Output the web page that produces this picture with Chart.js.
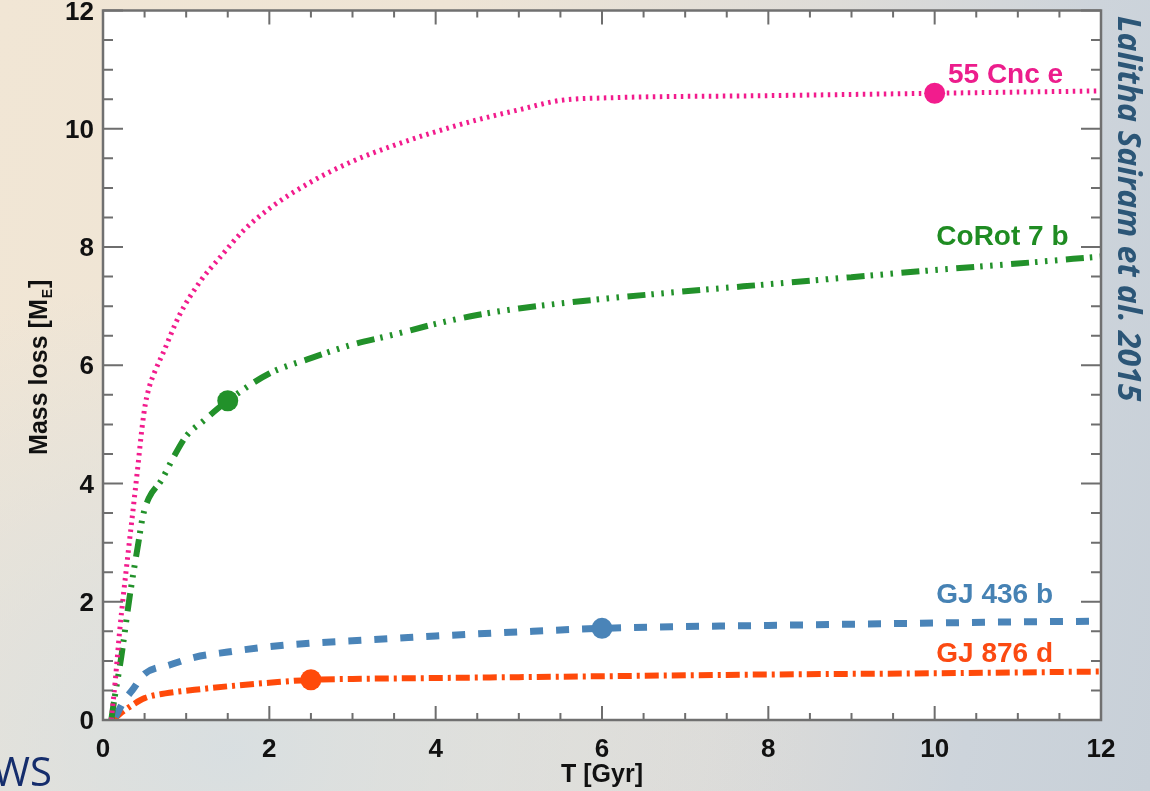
<!DOCTYPE html>
<html>
<head>
<meta charset="utf-8">
<title>Mass loss vs time</title>
<script src="https://cdn.jsdelivr.net/npm/chart.js@4"></script>
<style>
  html, body { margin: 0; padding: 0; }
  body {
    width: 1150px; height: 791px; overflow: hidden; position: relative;
    background:
      radial-gradient(ellipse at 20% 95%, rgba(214,222,226,0.9) 0%, rgba(214,222,226,0) 45%),
      linear-gradient(100deg, #f1e6d5 0%, #eee4d5 35%, #dedcd8 65%, #cdd4db 85%, #c8d0d8 100%);
  }
  #wrap { position: absolute; left: 0; top: 0; width: 1150px; height: 791px; }
  #credit {
    position: absolute; left: 1110px; top: 16px;
    writing-mode: vertical-rl;
    font-family: "Open Sans", sans-serif; font-weight: 700; font-style: italic;
    font-size: 32px; line-height: 40px; color: #2c5677; white-space: nowrap;
  }
  #corner {
    position: absolute; left: -7px; top: 747px;
    font-family: "Open Sans", sans-serif; font-size: 40px; line-height: 48px;
    color: #152d6c; white-space: nowrap;
  }
</style>
</head>
<body>
<div id="wrap"><canvas id="chart" width="1150" height="791"></canvas></div>
<div id="credit">Lalitha Sairam et al. 2015</div>
<div id="corner">WS</div>
<script>
// Cumulative mass loss (Earth masses) against time (Gyr) for four close-in planets
const cncT    = [0.1, 0.15, 0.2, 0.3, 0.365, 0.42, 0.47, 0.51, 0.56, 0.64, 0.72, 0.92, 1.17, 1.41, 1.69, 2, 2.5, 3, 3.5, 4, 4.5, 5, 5.5, 6, 8, 10, 12];
const cncLoss = [0, 0.7, 1.5, 2.8, 3.6, 4.3, 4.95, 5.35, 5.65, 5.95, 6.2, 6.85, 7.42, 7.83, 8.28, 8.65, 9.1, 9.45, 9.72, 9.95, 10.15, 10.32, 10.48, 10.52, 10.56, 10.6, 10.64];

const corotT    = [0.1, 0.12, 0.22, 0.32, 0.42, 0.48, 0.55, 0.7, 0.85, 1.0, 1.2, 1.5, 2, 2.5, 3, 3.5, 4, 4.5, 5, 6, 7, 8, 9, 10, 11, 12];
const corotLoss = [0, 0.2, 1.07, 2.08, 2.95, 3.45, 3.75, 4.05, 4.45, 4.8, 5.05, 5.4, 5.86, 6.12, 6.35, 6.52, 6.7, 6.85, 6.96, 7.12, 7.25, 7.37, 7.49, 7.61, 7.72, 7.84];

const gj436T    = [0.15, 0.25, 0.35, 0.5, 0.8, 1.1, 1.5, 2, 2.5, 3, 3.5, 4, 5, 6, 7, 8, 9, 10, 11, 12];
const gj436Loss = [0.05, 0.32, 0.5, 0.78, 0.93, 1.06, 1.15, 1.24, 1.3, 1.34, 1.38, 1.42, 1.49, 1.55, 1.58, 1.6, 1.62, 1.64, 1.66, 1.67];

const gj876T    = [0.12, 0.2, 0.35, 0.5, 0.75, 1.1, 1.5, 2, 2.5, 3, 4, 5, 6, 8, 10, 12];
const gj876Loss = [0, 0.1, 0.25, 0.37, 0.45, 0.51, 0.57, 0.63, 0.68, 0.695, 0.71, 0.725, 0.74, 0.77, 0.79, 0.82];

// Highlighted epochs, one per planet
const planetNames = ['55 Cnc e', 'CoRot 7 b', 'GJ 436 b', 'GJ 876 d'];
const markerT     = [10, 1.5, 6, 2.5];
const markerLoss  = [10.6, 5.4, 1.55, 0.68];

// Axis ticks
const xTickValues = [0, 2, 4, 6, 8, 10, 12];
const yTickValues = [0, 2, 4, 6, 8, 10, 12];

const colors = ['#f21c8d', '#22912a', '#4a84b8', '#ff4a0a'];
const textColors = ['#ec1d8c', '#1f8c22', '#4682b4', '#fb4a12'];
const dashes = [
  [2.5, 4.5],
  [18, 6, 2.5, 7.5, 2.5, 7.5, 2.5, 8.5],
  [13, 13],
  [14, 5, 3, 5]
];
const widths = [5, 6, 7, 6];

const toPoints = (xs, ys) => xs.map((x, i) => ({ x: x, y: ys[i] }));
const curves = [
  toPoints(cncT, cncLoss),
  toPoints(corotT, corotLoss),
  toPoints(gj436T, gj436Loss),
  toPoints(gj876T, gj876Loss)
];

const datasets = [];
curves.forEach((pts, i) => {
  datasets.push({
    label: planetNames[i],
    data: pts,
    borderColor: colors[i],
    borderWidth: widths[i],
    borderDash: dashes[i],
    borderCapStyle: 'butt',
    pointRadius: 0,
    fill: false,
    cubicInterpolationMode: 'monotone',
    order: 2
  });
});
planetNames.forEach((name, i) => {
  datasets.push({
    label: name + ' epoch',
    data: [{ x: markerT[i], y: markerLoss[i] }],
    showLine: false,
    pointRadius: 10.5,
    pointBackgroundColor: colors[i],
    pointBorderColor: colors[i],
    pointBorderWidth: 0,
    order: 1
  });
});

const BOLD = '"Liberation Sans", Arial, Helvetica, sans-serif';

// White plotting panel, framed box and inward ticks on all four sides
const framePlugin = {
  id: 'frame',
  beforeDraw(chart) {
    const a = chart.chartArea, ctx = chart.ctx;
    ctx.save();
    ctx.fillStyle = '#ffffff';
    ctx.fillRect(a.left, a.top, a.right - a.left, a.bottom - a.top);
    ctx.restore();
  },
  afterDatasetsDraw(chart) {
    const a = chart.chartArea, ctx = chart.ctx;
    const xs = chart.scales.x, ys = chart.scales.y;
    ctx.save();
    ctx.strokeStyle = '#6e6e6e';
    ctx.lineWidth = 2;
    ctx.beginPath();
    for (let v = 0; v <= 12.001; v += 0.5) {
      const major = Math.abs(v % 2) < 1e-6;
      const px = xs.getPixelForValue(v);
      const lx = major ? 14 : 7;
      ctx.moveTo(px, a.bottom); ctx.lineTo(px, a.bottom - lx);
      ctx.moveTo(px, a.top);    ctx.lineTo(px, a.top + lx);
      const py = ys.getPixelForValue(v);
      const ly = major ? 20 : 10;
      ctx.moveTo(a.left, py);  ctx.lineTo(a.left + ly, py);
      ctx.moveTo(a.right, py); ctx.lineTo(a.right - ly, py);
    }
    ctx.stroke();
    ctx.lineWidth = 2.5;
    ctx.strokeStyle = '#707070';
    ctx.strokeRect(a.left, a.top, a.right - a.left, a.bottom - a.top);
    ctx.restore();
  }
};

// Planet names written next to their curves
const namesPlugin = {
  id: 'planetNames',
  afterDatasetsDraw(chart, args, opts) {
    const ctx = chart.ctx, xs = chart.scales.x, ys = chart.scales.y;
    ctx.save();
    ctx.font = 'bold 28px ' + BOLD;
    ctx.textAlign = 'left';
    ctx.textBaseline = 'alphabetic';
    planetNames.forEach((name, i) => {
      ctx.fillStyle = textColors[i];
      ctx.fillText(name, xs.getPixelForValue(opts.at[i][0]), ys.getPixelForValue(opts.at[i][1]));
    });
    ctx.restore();
  }
};

// Vertical axis title with a subscript E
const yTitlePlugin = {
  id: 'yTitle',
  afterDraw(chart) {
    const ctx = chart.ctx, a = chart.chartArea;
    const main = 'Mass loss [M', sub = 'E', tail = ']';
    ctx.save();
    ctx.fillStyle = '#111111';
    ctx.font = 'bold 25px ' + BOLD;
    const w1 = ctx.measureText(main).width;
    const w3 = ctx.measureText(tail).width;
    ctx.font = 'bold 14px ' + BOLD;
    const w2 = ctx.measureText(sub).width;
    const total = w1 + w2 + w3 + 2;
    ctx.translate(47, (a.top + a.bottom) / 2 + 2);
    ctx.rotate(-Math.PI / 2);
    ctx.textBaseline = 'alphabetic';
    ctx.textAlign = 'left';
    let x = -total / 2;
    ctx.font = 'bold 25px ' + BOLD;
    ctx.fillText(main, x, 0);
    x += w1 + 1;
    ctx.font = 'bold 14px ' + BOLD;
    ctx.fillText(sub, x, 5);
    x += w2 + 1;
    ctx.font = 'bold 25px ' + BOLD;
    ctx.fillText(tail, x, 0);
    ctx.restore();
  }
};

new Chart(document.getElementById('chart'), {
  type: 'line',
  data: { datasets: datasets },
  plugins: [framePlugin, namesPlugin, yTitlePlugin],
  options: {
    responsive: false,
    animation: false,
    events: [],
    layout: { padding: { left: 0, right: 49, top: 10, bottom: 0 } },
    plugins: {
      legend: { display: false },
      tooltip: { enabled: false },
      planetNames: { at: [[10.16, 10.78], [10.02, 8.03], [10.02, 1.98], [10.02, 0.98]] }
    },
    scales: {
      x: {
        type: 'linear',
        min: 0, max: 12,
        afterFit(s) { s.height = 71; s.paddingLeft = 0; s.paddingRight = 0; },
        afterBuildTicks(s) { s.ticks = xTickValues.map(v => ({ value: v })); },
        grid: { display: false, drawTicks: false },
        border: { display: false },
        ticks: {
          padding: 14,
          color: '#111111',
          font: { family: BOLD, weight: 'bold', size: 26 },
          maxRotation: 0
        },
        title: {
          display: true,
          text: 'T [Gyr]',
          color: '#111111',
          font: { family: BOLD, weight: 'bold', size: 25 },
          padding: { top: 0, bottom: 1 }
        }
      },
      y: {
        type: 'linear',
        min: 0, max: 12,
        afterFit(s) { s.width = 103; s.paddingTop = 0; s.paddingBottom = 0; },
        afterBuildTicks(s) { s.ticks = yTickValues.map(v => ({ value: v })); },
        grid: { display: false, drawTicks: false },
        border: { display: false },
        ticks: {
          padding: 9,
          labelOffset: 2,
          color: '#111111',
          font: { family: BOLD, weight: 'bold', size: 26 }
        }
      }
    }
  }
});
</script>
</body>
</html>
